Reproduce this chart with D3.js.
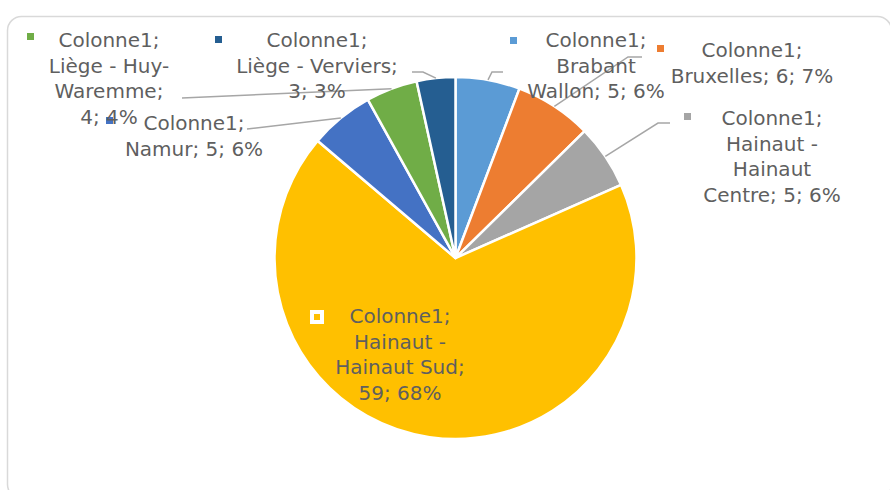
<!DOCTYPE html>
<html>
<head>
<meta charset="utf-8">
<script src="https://cdn.jsdelivr.net/npm/d3@7"></script>
<style>
  html, body { margin: 0; padding: 0; background: #fff; }
  svg { display: block; }
</style>
</head>
<body>
<svg id="chart" width="890" height="490"></svg>
<script>
// ---- data ----
const seriesName = "Colonne1";
const regions = ["Brabant Wallon", "Bruxelles", "Hainaut - Hainaut Centre", "Hainaut - Hainaut Sud", "Namur", "Liège - Huy-Waremme", "Liège - Verviers"];
const values = [5, 6, 5, 59, 5, 4, 3];
const percentLabels = ["6%", "7%", "6%", "68%", "6%", "4%", "3%"];
const colors = ["#5B9BD5", "#ED7D31", "#A5A5A5", "#FFC000", "#4472C4", "#70AD47", "#255E91"];

// ---- layout (positions only) ----
const cx = 455.5, cy = 258, radius = 181;
const lineH = 25.5;
const labelLayout = [
  { x: 596, y: 47, lines: [1, 1, 3], mk: [510, 37], leader: [[492, 72], [503, 72]] },
  { x: 752, y: 57, lines: [1, 3], mk: [657, 45], leader: [[628, 57], [642, 57]] },
  { x: 772, y: 125, lines: [1, 2, 1, 3], mk: [684, 113], leader: [[658, 123], [670, 123]] },
  { x: 400, y: 323, lines: [1, 2, 2, 2], mk: [312, 312], leader: null, inside: true },
  { x: 194, y: 130, lines: [1, 3], mk: [106, 117], leader: [[247, 129]] },
  { x: 109, y: 47, lines: [1, 3, 1, 2], mk: [27, 33], leader: [[182, 98]] },
  { x: 317, y: 47, lines: [1, 3, 2], mk: [215, 36], leader: [[423, 72], [412, 72]] }
];

const svg = d3.select("#chart");
const font = "'DejaVu Sans', sans-serif";

// chart border
svg.append("rect")
  .attr("x", 7.5).attr("y", 16.5)
  .attr("width", 884).attr("height", 482)
  .attr("rx", 14).attr("ry", 14)
  .attr("fill", "#fff")
  .attr("stroke", "#d9d9d9").attr("stroke-width", 1.5);

const data = regions.map((r, i) => ({ region: r, value: values[i], pct: percentLabels[i], color: colors[i] }));
const pie = d3.pie().value(d => d.value).sort(null).startAngle(0).endAngle(2 * Math.PI);
const arcs = pie(data);
const arc = d3.arc().innerRadius(0).outerRadius(radius);
const edgeArc = d3.arc().innerRadius(radius).outerRadius(radius);

const g = svg.append("g").attr("transform", `translate(${cx},${cy})`);
g.selectAll("path.slice")
  .data(arcs)
  .join("path")
  .attr("class", "slice")
  .attr("d", arc)
  .attr("fill", d => d.data.color)
  .attr("stroke", "#fff")
  .attr("stroke-width", 2.5)
  .attr("stroke-linejoin", "round");

// leader lines
arcs.forEach((a, i) => {
  const L = labelLayout[i];
  if (!L.leader) return;
  const c = edgeArc.centroid(a);
  const pts = [[cx + c[0], cy + c[1]]].concat(L.leader);
  svg.append("path")
    .attr("d", d3.line()(pts))
    .attr("fill", "none")
    .attr("stroke", "#a6a6a6")
    .attr("stroke-width", 1.5);
});

// labels
arcs.forEach((a, i) => {
  const L = labelLayout[i];
  const d = a.data;
  const full = `${seriesName}; ${d.region}; ${d.value}; ${d.pct}`;
  const tokens = full.split(/(?<=\s)|(?<=-)(?!\s)/);
  const lines = [];
  let k = 0;
  L.lines.forEach(n => {
    lines.push(tokens.slice(k, k + n).join("").trim());
    k += n;
  });
  // legend key
  if (L.inside) {
    svg.append("rect")
      .attr("x", L.mk[0]).attr("y", L.mk[1])
      .attr("width", 10).attr("height", 10)
      .attr("fill", d.color)
      .attr("stroke", "#fff").attr("stroke-width", 4);
  } else {
    svg.append("rect")
      .attr("x", L.mk[0]).attr("y", L.mk[1])
      .attr("width", 7).attr("height", 7)
      .attr("fill", d.color);
  }
  const t = svg.append("text")
    .attr("font-family", font)
    .attr("font-size", 20)
    .attr("fill", "#5f5f5f")
    .attr("text-anchor", "middle");
  lines.forEach((ln, j) => {
    t.append("tspan")
      .attr("x", L.x)
      .attr("y", L.y + j * lineH)
      .text(ln);
  });
});
</script>
</body>
</html>
